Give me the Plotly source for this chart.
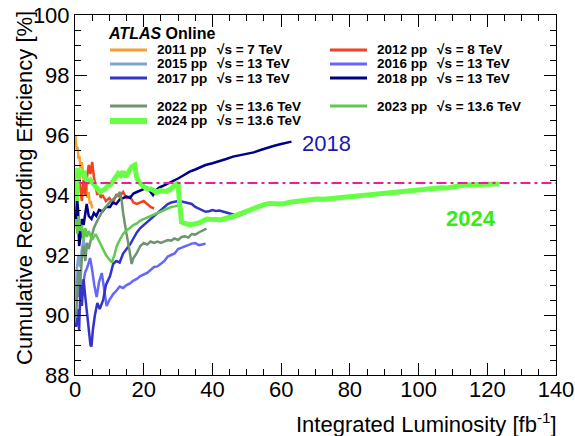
import plotly.graph_objects as go

# ---------------- data ----------------
x2011 = [0.1, 0.3, 0.5, 0.8, 1.0, 1.3, 1.6, 2.0, 2.3, 2.6, 3.0, 3.3, 3.6, 4.0, 4.3, 4.6, 5.0]
y2011 = [96.0, 95.8, 95.5, 95.6, 95.2, 95.3, 94.9, 95.1, 94.6, 94.4, 94.2, 94.4, 93.9, 94.1, 93.7, 93.8, 93.55]

x2012 = [0.5, 1.0, 1.5, 2.0, 2.5, 3.0, 3.5, 4.0, 4.5, 5.0, 5.5, 6.0, 6.5, 7.0, 7.5, 8.0, 9.0, 10.0,
         11.0, 12.0, 13.0, 14.0, 15.0, 16.0, 17.0, 18.0, 19.0, 20.0, 21.0, 22.0, 23.0]
y2012 = [94.2, 94.8, 94.3, 93.8, 94.5, 94.0, 94.6, 95.0, 94.7, 95.1, 94.6, 94.3, 94.0, 94.2, 93.9, 94.0,
         93.8, 93.9, 93.75, 94.0, 93.95, 94.1, 93.9, 93.95, 93.75, 93.7, 93.75, 93.8, 93.7, 93.6, 93.55]

x2015 = [0.2, 0.5, 1.0, 1.5, 2.0, 2.5, 3.0, 3.5, 3.9]
y2015 = [90.5, 91.5, 92.0, 91.6, 92.2, 92.5, 92.1, 92.4, 92.3]

x2016 = [0.8, 1.5, 2.2, 2.9, 3.6, 4.4, 5.0, 5.6, 6.3, 7.0, 7.8, 8.5, 9.2, 10.0, 11.1, 12.0, 13.0, 14.0,
         15.0, 16.0, 17.0, 18.0, 19.0, 20.0, 21.0, 22.0, 23.0, 24.0, 25.0, 26.0, 27.0, 28.0, 29.0, 30.0,
         31.0, 32.0, 33.0, 34.0, 35.0, 36.0, 37.0, 38.0]
y2016 = [90.6, 91.2, 90.9, 91.4, 91.6, 91.9, 91.5, 91.0, 90.6, 91.1, 91.4, 90.8, 90.3, 90.5, 90.7, 90.8,
         90.95, 90.9, 91.0, 91.05, 91.15, 91.2, 91.3, 91.35, 91.4, 91.5, 91.6, 91.62, 91.7, 91.8, 91.95,
         92.0, 92.05, 92.2, 92.25, 92.3, 92.35, 92.38, 92.4, 92.33, 92.35, 92.38]

x2017 = [0.3, 0.8, 1.2, 1.6, 2.0, 2.5, 3.0, 3.5, 4.0, 4.5, 4.8, 5.2, 5.8, 6.5, 7.2, 8.2, 9.0, 10.2, 11.1,
         12.0, 13.0, 14.0, 15.0, 16.0, 17.0, 18.0, 19.0, 20.0, 21.0, 22.0, 23.0, 24.0, 25.0, 26.0, 27.0,
         28.0, 29.0, 30.0, 31.0, 32.0, 33.0, 34.0, 35.0, 36.0, 37.0, 38.0, 39.0, 40.0, 41.0, 42.0, 43.0,
         44.0, 45.0, 46.0, 47.0, 48.0, 49.0, 50.0]
y2017 = [89.6, 90.2, 89.5, 91.0, 90.3, 91.2, 90.6, 90.0, 89.4, 89.0, 88.95, 89.5, 90.0, 90.4, 90.2, 90.5,
         91.0, 91.3, 91.7, 91.8, 91.75, 92.05, 92.2, 92.35, 92.55, 92.75, 92.9, 93.0, 93.1, 93.2, 93.3,
         93.4, 93.5, 93.6, 93.7, 93.75, 93.78, 93.8, 93.78, 93.76, 93.72, 93.7, 93.6, 93.55, 93.5, 93.44,
         93.46, 93.5, 93.47, 93.48, 93.45, 93.42, 93.4, 93.35, 93.3, 93.32, 93.38, 93.41]

x2018 = [0.3, 0.6, 0.9, 1.2, 1.6, 2.0, 2.5, 3.0, 3.4, 4.0, 4.8, 5.5, 6.2, 7.0, 8.0, 9.0, 10.2, 11.0,
         12.0, 13.0, 14.0, 15.0, 16.0, 17.0, 18.0, 19.0, 20.0, 21.0, 22.0, 22.7, 23.5, 24.5, 25.5, 26.5,
         27.5, 28.5, 30.0, 31.5, 33.4, 35.0, 36.5, 38.0, 40.0, 42.0, 44.0, 46.0, 48.0, 50.0, 52.0, 54.0,
         56.0, 58.0, 60.0, 62.0, 63.0]
y2018 = [93.2, 93.9, 93.5, 92.3, 92.6, 93.2, 93.0, 93.5, 93.7, 93.3, 93.2, 93.4, 93.3, 93.5, 93.45,
         93.6, 93.6, 93.75, 93.7, 93.85, 93.9, 93.95, 93.9, 94.05, 94.1, 94.15, 94.2, 94.25, 94.1, 94.0,
         94.15, 94.25, 94.3, 94.35, 94.4, 94.45, 94.55, 94.65, 94.78, 94.85, 94.92, 95.0, 95.06, 95.12,
         95.2, 95.28, 95.33, 95.38, 95.42, 95.5, 95.58, 95.64, 95.7, 95.75, 95.78]

x2022 = [0.3, 0.6, 1.0, 1.5, 2.0, 2.5, 3.0, 3.5, 4.0, 4.8, 5.5, 6.3, 7.2, 8.2, 9.0, 10.0, 11.0, 12.1,
         13.1, 13.6, 14.0, 14.5, 15.0, 15.5, 16.0, 16.5, 17.0, 17.9, 19.0, 20.0, 21.0, 22.0, 23.0, 24.0,
         25.0, 26.0, 27.0, 28.0, 29.0, 30.0, 31.0, 32.0, 33.0, 34.0, 35.0, 36.0, 37.0, 38.3]
y2022 = [89.9, 90.8, 91.5, 91.0, 91.9, 92.3, 91.8, 92.4, 92.2, 92.6, 92.9, 93.1, 93.3, 93.5, 93.6,
         93.75, 93.85, 93.95, 94.1, 93.8, 93.4, 93.0, 92.7, 92.4, 92.1, 91.7, 91.9, 92.05, 92.3, 92.4,
         92.35, 92.45, 92.4, 92.45, 92.4, 92.45, 92.5, 92.48, 92.55, 92.5, 92.6, 92.62, 92.58, 92.7,
         92.68, 92.75, 92.8, 92.88]

x2023 = [0.3, 0.7, 1.0, 1.5, 2.0, 2.5, 3.0, 3.5, 4.0, 5.0, 6.0, 7.0, 8.0, 9.0, 10.0, 10.7, 11.5, 12.1,
         13.0, 14.0, 15.0, 16.0, 17.0, 18.0, 19.0, 20.0, 21.0, 22.0, 23.0, 24.0, 25.0, 26.0, 27.0, 28.0,
         29.0, 30.0, 30.5]
y2023 = [93.2, 92.7, 93.3, 92.8, 93.0, 92.5, 92.9, 92.6, 92.8, 92.5, 92.7, 92.45, 92.2, 92.0, 91.85,
         91.75, 92.0, 92.28, 92.5, 92.7, 92.83, 92.9, 93.0, 93.05, 93.15, 93.2, 93.25, 93.3, 93.35,
         93.4, 93.45, 93.5, 93.55, 93.6, 93.62, 93.65, 93.62]

x2024 = [0.5, 0.8, 1.2, 1.5, 2.0, 2.5, 3.0, 3.4, 4.0, 4.5, 5.3, 6.0, 6.6, 7.3, 8.0, 8.8, 9.5, 10.2,
         11.0, 11.8, 12.6, 13.3, 14.0, 14.7, 15.3, 16.0, 16.5, 17.4, 17.9, 18.5, 19.2, 20.0, 21.0, 22.0,
         23.0, 23.7, 24.7, 25.5, 26.6, 27.6, 28.5, 29.6, 30.0, 30.3, 30.6, 31.0, 32.0, 33.4, 34.5, 35.5,
         36.3, 37.5, 38.3, 39.2, 40.2, 41.2, 42.2, 43.5, 45.0, 46.5, 48.0, 49.5, 50.9, 52.5, 53.8, 55.0,
         56.7, 58.5, 60.6, 62.5, 65.4, 67.5, 70.3, 72.5, 75.1, 77.5, 80.0, 82.5, 84.8, 87.5, 90.0, 92.5,
         94.5, 97.0, 99.5, 102.0, 104.2, 106.5, 108.0, 110.0, 112.0, 113.9, 116.0, 117.5, 119.7, 121.5,
         123.5]
y2024 = [93.8, 94.9, 94.6, 94.85, 94.7, 94.8, 94.55, 94.5, 94.45, 94.5, 94.39, 94.3, 94.2, 94.1, 94.15,
         94.2, 94.3, 94.33, 94.45, 94.6, 94.72, 94.65, 94.78, 94.6, 94.7, 94.85, 94.94, 95.0, 94.61,
         94.45, 94.35, 94.28, 94.2, 94.2, 94.15, 94.08, 94.15, 94.12, 94.12, 94.17, 94.25, 94.35, 94.42,
         93.9, 93.3, 93.1, 93.05, 93.0, 93.03, 93.05, 93.08, 93.15, 93.2, 93.19, 93.2, 93.18, 93.17,
         93.2, 93.26, 93.3, 93.37, 93.44, 93.5, 93.58, 93.65, 93.68, 93.72, 93.7, 93.7, 93.76, 93.81,
         93.84, 93.87, 93.86, 93.89, 93.91, 93.94, 93.95, 93.98, 94.02, 94.05, 94.08, 94.11, 94.15,
         94.18, 94.2, 94.22, 94.24, 94.23, 94.28, 94.31, 94.33, 94.32, 94.35, 94.36, 94.35, 94.37]

ref_x = [1.3, 140.0]
ref_y = [94.4, 94.4]

series = [
    ("2011 pp", "7 TeV", x2011, y2011, "#f5a033", 2.5),
    ("2012 pp", "8 TeV", x2012, y2012, "#ee4422", 2.5),
    ("2015 pp", "13 TeV", x2015, y2015, "#7ba3d6", 2.5),
    ("2016 pp", "13 TeV", x2016, y2016, "#6666ff", 2.5),
    ("2017 pp", "13 TeV", x2017, y2017, "#3333cc", 2.5),
    ("2018 pp", "13 TeV", x2018, y2018, "#000088", 2.5),
    ("2022 pp", "13.6 TeV", x2022, y2022, "#6e966e", 2.5),
    ("2023 pp", "13.6 TeV", x2023, y2023, "#62c850", 2.5),
    ("2024 pp", "13.6 TeV", x2024, y2024, "#66ff44", 5),
]

# legend layout (column, row) for each year
legend_slots = {"2011 pp": (0, 0), "2015 pp": (0, 1), "2017 pp": (0, 2), "2022 pp": (0, 3), "2024 pp": (0, 4),
                "2012 pp": (1, 0), "2016 pp": (1, 1), "2018 pp": (1, 2), "2023 pp": (1, 3)}

# ---------------- figure ----------------
W, H = 575, 436
ML, MR, MT, MB = 75, 19, 15, 61
PW, PH = W - ML - MR, H - MT - MB
FONT = "Liberation Sans, Arial, Helvetica, sans-serif"


def px(xp):
    return (xp - ML) / PW


def py(yp):
    return (H - MB - yp) / PH


fig = go.Figure()
for name, en, xs, ys, col, lw in series:
    fig.add_trace(go.Scatter(x=xs, y=ys, mode="lines", line=dict(color=col, width=lw),
                             name=name, showlegend=False, hoverinfo="skip"))

fig.add_trace(go.Scatter(x=ref_x, y=ref_y, mode="lines",
                         line=dict(color="#ee1c96", width=2, dash="10px,4px,3px,4px"),
                         showlegend=False, hoverinfo="skip"))

shapes = []
annotations = []

# legend header
annotations.append(dict(xref="paper", yref="paper", x=px(106), y=py(33), xanchor="left", yanchor="middle",
                        text="<b><i>ATLAS</i> Online</b>", showarrow=False,
                        font=dict(family=FONT, size=16, color="black")))

col_line_x = [(110, 147), (330, 367)]
col_year_x = [155, 375]
col_en_x = [215, 435]
row_y = [50, 64, 78, 106, 121]
for name, en, xs, ys, col, lw in series:
    c, r = legend_slots[name]
    yy = py(row_y[r])
    shapes.append(dict(type="line", xref="paper", yref="paper",
                       x0=px(col_line_x[c][0]), x1=px(col_line_x[c][1]), y0=yy, y1=yy,
                       line=dict(color=col, width=3 if lw < 4 else 6)))
    annotations.append(dict(xref="paper", yref="paper", x=px(col_year_x[c]), y=yy, xanchor="left",
                            yanchor="middle", text="<b>%s</b>" % name, showarrow=False,
                            font=dict(family=FONT, size=13.5, color="black")))
    annotations.append(dict(xref="paper", yref="paper", x=px(col_en_x[c]), y=yy, xanchor="left",
                            yanchor="middle", text="<b>√s = %s</b>" % en, showarrow=False,
                            font=dict(family=FONT, size=13.5, color="black")))

# year labels on the plot
annotations.append(dict(x=73.3, y=95.73, xref="x", yref="y", text="2018", showarrow=False,
                        font=dict(family=FONT, size=22, color="#1a1ab0")))
annotations.append(dict(x=115.3, y=93.23, xref="x", yref="y", text="<b>2024</b>", showarrow=False,
                        font=dict(family=FONT, size=22, color="#33ee11")))

# axis titles (ROOT style: right / top aligned)
annotations.append(dict(xref="paper", yref="paper", x=px(559), y=py(423), xanchor="right", yanchor="middle",
                        text="Integrated Luminosity [fb<sup>-1</sup>]", showarrow=False,
                        font=dict(family=FONT, size=22, color="black")))
annotations.append(dict(xref="paper", yref="paper", x=px(24), y=py(9), xanchor="center", yanchor="top",
                        text="Cumulative Recording Efficiency [%]", textangle=-90, showarrow=False,
                        font=dict(family=FONT, size=22, color="black")))

axis_common = dict(showgrid=False, zeroline=False, showline=True, linecolor="black", linewidth=1,
                   mirror="allticks", ticks="inside", ticklen=12, tickcolor="black", tickwidth=1,
                   automargin=False,
                   tickfont=dict(family=FONT, size=22, color="black"))

fig.update_layout(
    width=W, height=H,
    margin=dict(l=ML, r=MR, t=MT, b=MB),
    paper_bgcolor="white", plot_bgcolor="white",
    showlegend=False,
    shapes=shapes, annotations=annotations,
    xaxis=dict(range=[0, 140], dtick=20, tick0=0, ticklabelstandoff=-5,
               minor=dict(dtick=5, ticks="inside", ticklen=6, tickcolor="black"), **axis_common),
    yaxis=dict(range=[88, 100], dtick=2, tick0=88,
               minor=dict(dtick=0.5, ticks="inside", ticklen=6, tickcolor="black"), **axis_common),
)

fig.write_html("out.html")
